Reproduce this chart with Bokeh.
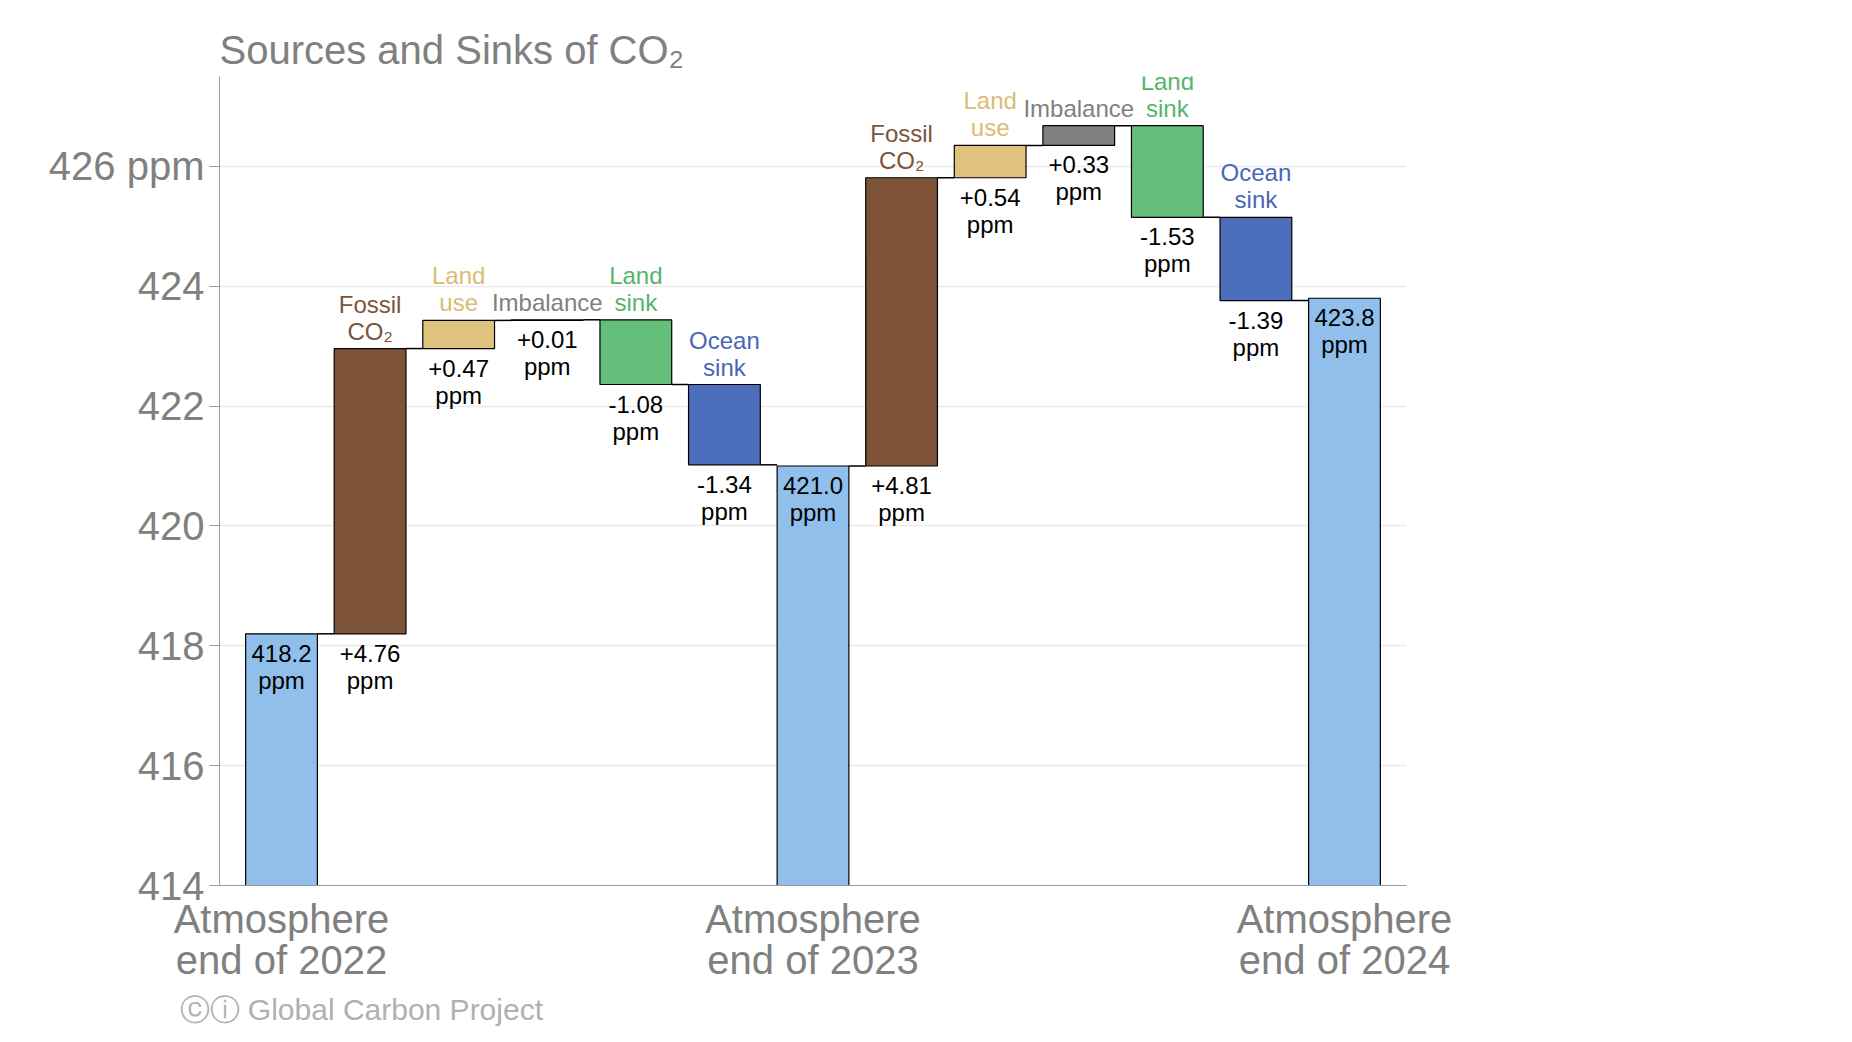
from bokeh.plotting import figure
from bokeh.models import ColumnDataSource, Range1d, FixedTicker, Title
from bokeh.core.properties import value
from bokeh.embed import file_html
from bokeh.resources import INLINE

names = ["", "Fossil\nCO₂", "Land\nuse", "Imbalance", "Land\nsink", "Ocean\nsink",
         "", "Fossil\nCO₂", "Land\nuse", "Imbalance", "Land\nsink", "Ocean\nsink", ""]
kinds = ["total", "fossil", "landuse", "imb", "landsink", "ocean",
         "total", "fossil", "landuse", "imb", "landsink", "ocean", "total"]
totals = {0: 418.2, 6: 421.0, 12: 423.8}
deltas = [None, 4.76, 0.47, 0.01, -1.08, -1.34, None, 4.81, 0.54, 0.33, -1.53, -1.39, None]
tick_labels = ["Atmosphere\nend of 2022", "Atmosphere\nend of 2023", "Atmosphere\nend of 2024"]

fill = {"total": "#8fbfea", "fossil": "#7d533a", "landuse": "#dfc27b", "imb": "#808080",
        "landsink": "#63bf7a", "ocean": "#4d6fbb"}
namecol = {"total": "#000000", "fossil": "#7d533a", "landuse": "#d9bc72", "imb": "#808080",
           "landsink": "#55b46c", "ocean": "#4a66b8"}

BASE = 414
x, bot, top, col, ncol, vlab = [], [], [], [], [], []
level = None
for i, k in enumerate(kinds):
    if k == "total":
        level = totals[i]
        b, t = BASE, level
        vlab.append(f"{level:.1f}\nppm")
    else:
        d = deltas[i]
        new = level + d
        b, t = min(level, new), max(level, new)
        vlab.append(f"{d:+.2f}\nppm")
        level = new
    x.append(i); bot.append(b); top.append(t); col.append(fill[k]); ncol.append(namecol[k])

# label positions: totals inside top, others below bottom
vy = [t if k == "total" else b for k, b, t in zip(kinds, bot, top)]
src = ColumnDataSource(dict(x=x, left=[v - 0.405 for v in x], right=[v + 0.405 for v in x],
                            bot=bot, top=top, col=col, ncol=ncol, vlab=vlab, vy=vy, names=names))

# connectors
cx0, cx1, cy = [], [], []
lvl = totals[0]
for i in range(len(kinds) - 1):
    if kinds[i] == "total":
        lvl = totals[i]
    else:
        lvl = lvl + deltas[i]
    cx0.append(i + 0.405); cx1.append(i + 1 - 0.405); cy.append(lvl)

p = figure(frame_width=1187, frame_height=809, output_backend="svg", toolbar_location=None,
           x_range=Range1d(-0.70, 12.70), y_range=Range1d(414, 427.5),
           min_border_left=219, min_border_right=420, min_border_top=76, min_border_bottom=60)
p.outline_line_color = None
p.background_fill_color = "white"
p.title.text = "Sources and Sinks of CO₂"
p.title.text_font = "Liberation Sans"
p.title.text_font_size = "40px"
p.title.text_font_style = "normal"
p.title.text_color = "#808080"

p.xgrid.grid_line_color = None
p.ygrid.grid_line_color = "#ebebeb"
p.ygrid.grid_line_width = 1.5

p.yaxis.ticker = FixedTicker(ticks=[414, 416, 418, 420, 422, 424, 426])
p.yaxis.major_label_overrides = {426: "426 ppm"}
p.yaxis.major_label_text_font = "Liberation Sans"
p.yaxis.major_label_text_font_size = "40px"
p.yaxis.major_label_text_color = "#808080"
p.yaxis.axis_line_color = "#999999"
p.yaxis.major_tick_line_color = "#999999"
p.yaxis.major_tick_out = 10
p.yaxis.major_tick_in = 0
p.yaxis.minor_tick_line_color = None

p.xaxis.ticker = FixedTicker(ticks=[0, 6, 12])
p.xaxis.major_label_overrides = {0: tick_labels[0], 6: tick_labels[1], 12: tick_labels[2]}
p.xaxis.major_label_text_font = "Liberation Sans"
p.xaxis.major_label_text_font_size = "40px"
p.xaxis.major_label_text_color = "#808080"
p.xaxis.major_label_text_line_height = 0.95
p.xaxis.axis_line_color = "#999999"
p.xaxis.major_tick_line_color = None
p.xaxis.minor_tick_line_color = None

p.quad(left="left", right="right", bottom="bot", top="top", source=src,
       fill_color="col", line_color="black", line_width=1.2)
p.segment(x0=cx0, x1=cx1, y0=cy, y1=cy, line_color="black", line_width=1.5)

p.text(x="x", y="vy", text="vlab", source=src, text_align="center", text_baseline="top",
       y_offset=6, text_font=value("Liberation Sans"), text_font_size="24px",
       text_color="black", text_line_height=1.0)
p.text(x="x", y="top", text="names", source=src, text_align="center", text_baseline="bottom",
       y_offset=-4, text_font=value("Liberation Sans"), text_font_size="24px",
       text_color="ncol", text_line_height=1.0)

foot = Title(text="ⓒⓘ Global Carbon Project", text_font="Liberation Sans", text_font_size="30px",
             text_font_style="normal", text_color="#b0b0b0", align="left", offset=-40)
p.add_layout(foot, "below")

open("out.html", "w").write(file_html(p, INLINE))
